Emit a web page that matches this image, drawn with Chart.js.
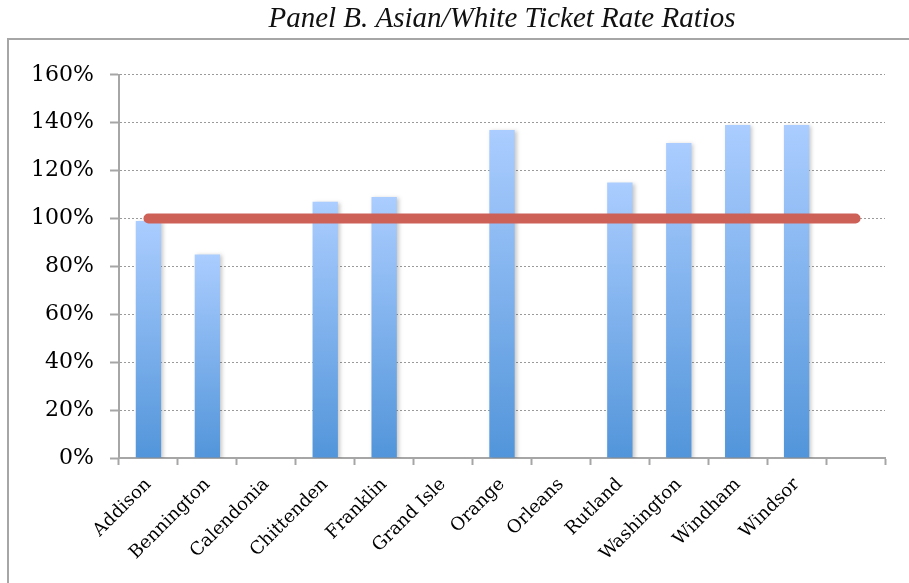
<!DOCTYPE html>
<html lang="en">
<head>
  <meta charset="UTF-8">
  <title>Panel B. Asian/White Ticket Rate Ratios</title>
  <script src="https://cdn.jsdelivr.net/npm/chart.js"></script>
  <style>
    body {
      margin: 0;
      background: #ffffff;
    }
    .chart-container {
      position: relative;
      width: 909px;
      height: 583px;
    }
  </style>
</head>
<body>
  <div class="chart-container">
    <canvas id="ratioChart"></canvas>
  </div>

  <script>
    // counties (last slot is left empty, like the original sheet)
    const counties = ['Addison', 'Bennington', 'Calendonia', 'Chittenden', 'Franklin', 'Grand Isle',
      'Orange', 'Orleans', 'Rutland', 'Washington', 'Windham', 'Windsor', ''];
    // Asian/White ticket rate ratio, in percent
    const ratios = [99, 85, null, 107, 109, null, 137, null, 115, 131.5, 139, 139, null];
    // parity reference line
    const parity = [100, 100, 100, 100, 100, 100, 100, 100, 100, 100, 100, 100, 100];
    const yTicks = [0, 20, 40, 60, 80, 100, 120, 140, 160];

    const ctx = document.getElementById('ratioChart').getContext('2d');

    // gradient per bar: light at the top, darker blue at the base
    function barFill(context) {
      const chart = context.chart;
      const v = context.raw;
      if (!chart.chartArea || v == null) return '#7fb0ee';
      const y = chart.scales.y;
      const g = chart.ctx.createLinearGradient(0, y.getPixelForValue(v), 0, y.getPixelForValue(0));
      g.addColorStop(0, '#abcdff');
      g.addColorStop(1, '#5295da');
      return g;
    }

    // outer frame of the chart (title sits above it)
    const framePlugin = {
      id: 'frame',
      beforeDraw: (chart) => {
        const c = chart.ctx;
        c.save();
        c.strokeStyle = '#a6a6a6';
        c.lineWidth = 2;
        c.strokeRect(8, 39, 920, 560);
        c.restore();
      }
    };

    // soft shadow to the right of the bars
    const shadowPlugin = {
      id: 'barShadow',
      beforeDatasetDraw: (chart, args) => {
        if (args.index !== 0) return;
        const c = chart.ctx;
        c.save();
        c.shadowColor = 'rgba(0,0,0,0.22)';
        c.shadowBlur = 4;
        c.shadowOffsetX = 2;
        c.shadowOffsetY = 1;
      },
      afterDatasetDraw: (chart, args) => {
        if (args.index !== 0) return;
        chart.ctx.restore();
      }
    };

    new Chart(ctx, {
      data: {
        labels: counties,
        datasets: [
          {
            type: 'bar',
            data: ratios,
            backgroundColor: barFill,
            barPercentage: 0.43,
            categoryPercentage: 1,
            order: 2
          },
          {
            type: 'line',
            data: parity,
            borderColor: '#cd6158',
            borderWidth: 10,
            borderCapStyle: 'round',
            pointRadius: 0,
            order: 1
          }
        ]
      },
      options: {
        responsive: true,
        maintainAspectRatio: false,
        animation: false,
        layout: {
          padding: { left: 0, right: 24, top: 0, bottom: 0 }
        },
        plugins: {
          legend: { display: false },
          tooltip: { enabled: false },
          title: {
            display: true,
            text: 'Panel B. Asian/White Ticket Rate Ratios',
            fullSize: false,
            color: '#111111',
            font: { family: 'Liberation Serif', style: 'italic', weight: 'normal', size: 29 },
            padding: { top: 2, bottom: 38 }
          }
        },
        scales: {
          x: {
            offset: true,
            grid: {
              offset: true,
              drawOnChartArea: false,
              drawTicks: true,
              tickLength: 7,
              tickColor: '#a6a6a6',
              tickWidth: 2
            },
            border: { display: true, color: '#a6a6a6', width: 2 },
            ticks: {
              color: '#000000',
              font: { family: 'DejaVu Serif', size: 18 },
              minRotation: 45,
              maxRotation: 45,
              padding: 9,
              autoSkip: false
            },
            afterFit: (scale) => { scale.height = 125; }
          },
          y: {
            min: 0,
            max: 160,
            afterBuildTicks: (scale) => { scale.ticks = yTicks.map(v => ({ value: v })); },
            grid: {
              color: '#9a9a9a',
              lineWidth: 1,
              tickLength: 9,
              tickColor: '#a6a6a6',
              tickWidth: 2,
              tickBorderDash: []
            },
            border: { display: true, color: '#a6a6a6', width: 2, dash: [2, 2] },
            ticks: {
              color: '#000000',
              font: { family: 'DejaVu Serif', size: 22 },
              padding: 16,
              callback: (v) => v + '%'
            },
            afterFit: (scale) => { scale.width = 119; }
          }
        }
      },
      plugins: [framePlugin, shadowPlugin]
    });
  </script>
</body>
</html>
